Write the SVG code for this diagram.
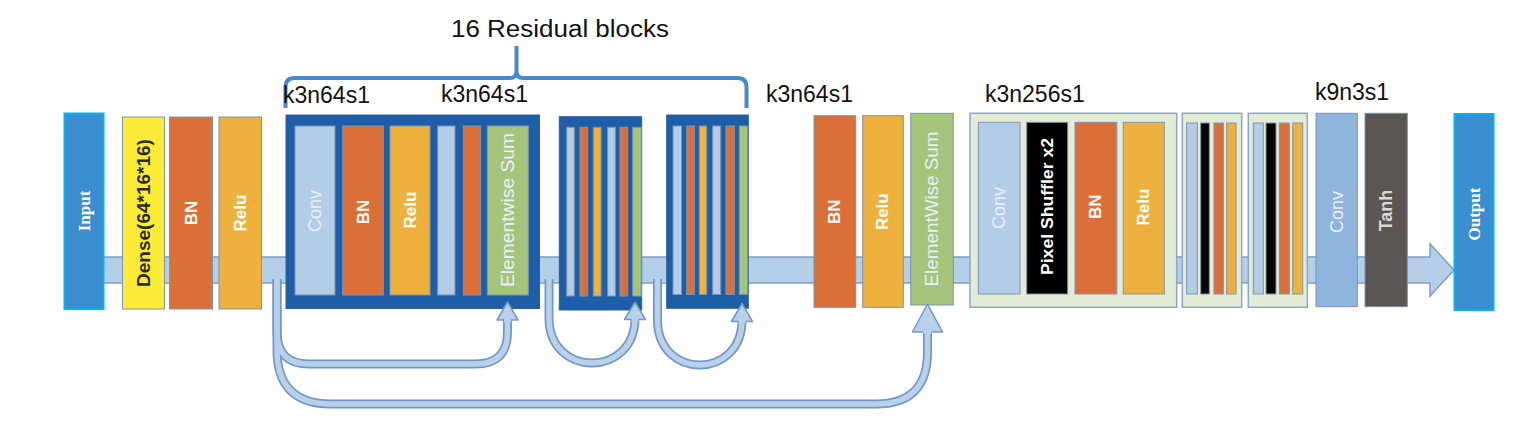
<svg xmlns="http://www.w3.org/2000/svg" width="1526" height="436" viewBox="0 0 1526 436">
<style>
.bg{fill:#ffffff}
.io{fill:#3a8dcf;stroke:#00b4f0;stroke-width:2}
.bar{stroke:#7d93ae;stroke-width:1}
.conv{fill:#b4cde6}
.conv2{fill:#8fb4de}
.bn{fill:#da7038}
.relu{fill:#eeb13e}
.sum{fill:#a5c47c}
.dense{fill:#fdec37}
.blk{fill:#000000}
.tanh{fill:#5b5653}
.res{fill:#1e5ea8;stroke:#2d5f98;stroke-width:1}
.up{fill:#e2ecd7;stroke:#8ea8c8;stroke-width:1.5}
.band{fill:#b6cfe8;stroke:#7f9fc4;stroke-width:1.5}
.t{font-family:"Liberation Sans",Arial,sans-serif;text-anchor:middle;dominant-baseline:central}
.w{fill:#ffffff}
.lt{fill:#e8f0f9}
.io-t{font-family:"Liberation Serif","Times New Roman",serif;font-weight:bold;font-size:17px;fill:#ffffff;text-anchor:middle;dominant-baseline:central}
.hd{font-family:"Liberation Sans",Arial,sans-serif;font-size:23px;fill:#111111}
.cdark{fill:none;stroke:#7398c6;stroke-width:9}
.clight{fill:none;stroke:#b8d0ea;stroke-width:5.5}
.head{fill:#b8d0ea;stroke:#7398c6;stroke-width:1.5;stroke-linejoin:round}
.brace{fill:none;stroke:#4a88cc;stroke-width:4;stroke-linejoin:round}
</style>
<defs>
<path id="p-outer" d="M277,279 V350 Q277,404 331,404 H876 Q927.5,404 927.5,352 V330"/>
<path id="p-res1" d="M277,279 V332 Q277,364 309,364 H475.5 Q507.5,364 507.5,332 V318"/>
<path id="p-res2" d="M549,279 V318 C549,378 635,378 635,318"/>
<path id="p-res3" d="M657.5,279 V320 C657.5,380 742,380 742,320"/>
</defs>
<rect class="bg" x="0" y="0" width="1526" height="436"/>

<g id="title">
<text class="hd" x="560" y="37" text-anchor="middle" textLength="218" lengthAdjust="spacingAndGlyphs">16 Residual blocks</text>
<path class="brace" d="M285.5,108 V87 Q285.5,78 294.5,78 H510 Q516.5,78 516.5,71 V46 M516.5,71 Q516.5,78 523,78 H737.5 Q746.5,78 746.5,87 V108"/>
</g>

<g id="labels">
<text class="hd" x="283" y="103">k3n64s1</text>
<text class="hd" x="441" y="102">k3n64s1</text>
<text class="hd" x="766" y="102">k3n64s1</text>
<text class="hd" x="985" y="102">k3n256s1</text>
<text class="hd" x="1315" y="100">k9n3s1</text>
</g>

<g id="trunk">
<path class="band" d="M103,257 H1430 V244 L1454,270 L1430,296 V283 H103 Z"/>
</g>

<g id="input">
<rect class="io" x="64.5" y="113.5" width="39" height="195.5"/>
<text class="io-t" x="84" y="211" transform="rotate(-90 84 211)">Input</text>
</g>

<g id="dense">
<rect class="bar dense" x="122.5" y="117" width="42" height="192"/>
<text class="t" x="143.5" y="213" transform="rotate(-90 143.5 213)" font-size="19" font-weight="bold" fill="#2b2b1a">Dense(64*16*16)</text>
</g>

<g id="bn1">
<rect class="bar bn" x="169.5" y="117" width="43" height="192"/>
<text class="t w" x="191" y="213" transform="rotate(-90 191 213)" font-size="17" font-weight="bold">BN</text>
</g>

<g id="relu1">
<rect class="bar relu" x="219" y="117" width="42.5" height="192"/>
<text class="t w" x="240.3" y="213" transform="rotate(-90 240.3 213)" font-size="17" font-weight="bold">Relu</text>
</g>

<g id="resblock1">
<rect class="res" x="286" y="115" width="253.5" height="193.5"/>
<rect class="bar conv" x="295" y="126" width="40" height="169"/>
<rect class="bar bn" x="342.7" y="126" width="40.6" height="169"/>
<rect class="bar relu" x="390" y="126" width="40" height="169"/>
<rect class="bar conv" x="437.7" y="126" width="17.3" height="169"/>
<rect class="bar bn" x="463.3" y="126" width="17.4" height="169"/>
<rect class="bar sum" x="487.3" y="126" width="41" height="169"/>
<text class="t lt" x="315" y="211" transform="rotate(-90 315 211)" font-size="18">Conv</text>
<text class="t w" x="363" y="212" transform="rotate(-90 363 212)" font-size="17" font-weight="bold">BN</text>
<text class="t w" x="410" y="210" transform="rotate(-90 410 210)" font-size="17" font-weight="bold">Relu</text>
<text class="t lt" x="507.8" y="210" transform="rotate(-90 507.8 210)" font-size="18" textLength="154" lengthAdjust="spacingAndGlyphs">Elementwise Sum</text>
</g>

<g id="resblock2">
<rect class="res" x="559.3" y="116.7" width="82.4" height="193.3"/>
<rect class="bar conv" x="566.7" y="127.3" width="7.6" height="168.7"/>
<rect class="bar bn" x="580" y="127.3" width="7.7" height="168.7"/>
<rect class="bar relu" x="593.3" y="127.3" width="7.7" height="168.7"/>
<rect class="bar conv" x="607.7" y="127.3" width="7.6" height="168.7"/>
<rect class="bar bn" x="620" y="127.3" width="7.7" height="168.7"/>
<rect class="bar sum" x="632.7" y="127.3" width="8.5" height="168.7"/>
</g>

<g id="resblock3">
<rect class="res" x="666.7" y="115" width="81.6" height="193.3"/>
<rect class="bar conv" x="673" y="126" width="8.5" height="168.5"/>
<rect class="bar bn" x="686.7" y="126" width="7.6" height="168.5"/>
<rect class="bar relu" x="699.3" y="126" width="7.4" height="168.5"/>
<rect class="bar conv" x="712.7" y="126" width="8" height="168.5"/>
<rect class="bar bn" x="726" y="126" width="8.3" height="168.5"/>
<rect class="bar sum" x="739.3" y="126" width="8.4" height="168.5"/>
</g>

<g id="bn2">
<rect class="bar bn" x="814" y="115.7" width="41.7" height="191.6"/>
<text class="t w" x="834.8" y="211.7" transform="rotate(-90 834.8 211.7)" font-size="17" font-weight="bold">BN</text>
</g>

<g id="relu2">
<rect class="bar relu" x="862.7" y="115.7" width="40.6" height="191.6"/>
<text class="t w" x="883" y="211.7" transform="rotate(-90 883 211.7)" font-size="17" font-weight="bold">Relu</text>
</g>

<g id="elementwise-sum">
<rect class="bar sum" x="910.7" y="113.3" width="42.6" height="191.7"/>
<text class="t lt" x="932" y="209" transform="rotate(-90 932 209)" font-size="18" textLength="155" lengthAdjust="spacingAndGlyphs">ElementWise Sum</text>
</g>

<g id="upsample1">
<rect class="up" x="970" y="113.3" width="206.7" height="194"/>
<rect class="bar conv" x="978.3" y="122.3" width="41.7" height="171.7"/>
<rect class="bar blk" x="1026.7" y="122.3" width="41" height="171.7"/>
<rect class="bar bn" x="1075" y="122.3" width="41.7" height="171.7"/>
<rect class="bar relu" x="1123.3" y="122.3" width="41" height="171.7"/>
<text class="t lt" x="999.2" y="208" transform="rotate(-90 999.2 208)" font-size="18">Conv</text>
<text class="t w" x="1047.2" y="206.5" transform="rotate(-90 1047.2 206.5)" font-size="17" font-weight="bold" textLength="137" lengthAdjust="spacingAndGlyphs">Pixel Shuffler x2</text>
<text class="t w" x="1095.8" y="206.7" transform="rotate(-90 1095.8 206.7)" font-size="17" font-weight="bold">BN</text>
<text class="t w" x="1143.8" y="207" transform="rotate(-90 1143.8 207)" font-size="17" font-weight="bold">Relu</text>
</g>

<g id="upsample2">
<rect class="up" x="1182.3" y="113.3" width="59.4" height="194"/>
<rect class="bar conv" x="1186.7" y="123" width="10.6" height="171"/>
<rect class="bar blk" x="1200.7" y="123" width="8.6" height="171"/>
<rect class="bar bn" x="1214" y="123" width="9.3" height="171"/>
<rect class="bar relu" x="1226.7" y="123" width="9.3" height="171"/>
</g>

<g id="upsample3">
<rect class="up" x="1248.3" y="113.3" width="59" height="194"/>
<rect class="bar conv" x="1253.3" y="123" width="10" height="171"/>
<rect class="bar blk" x="1266" y="123" width="10" height="171"/>
<rect class="bar bn" x="1279.3" y="123" width="10" height="171"/>
<rect class="bar relu" x="1292.7" y="123" width="10" height="171"/>
</g>

<g id="conv-final">
<rect class="bar conv2" x="1316" y="113.3" width="41.3" height="193.4"/>
<text class="t lt" x="1336.7" y="212" transform="rotate(-90 1336.7 212)" font-size="18">Conv</text>
</g>

<g id="tanh">
<rect class="bar tanh" x="1365" y="113.3" width="42.3" height="193.4"/>
<text class="t" x="1386.2" y="210.5" transform="rotate(-90 1386.2 210.5)" font-size="18" font-weight="bold" fill="#dcd8d4">Tanh</text>
</g>

<g id="output">
<rect class="io" x="1454.5" y="114" width="39" height="196"/>
<text class="io-t" x="1474" y="214" transform="rotate(-90 1474 214)">Output</text>
</g>

<g id="connectors">
<use href="#p-outer" class="cdark"/>
<use href="#p-res1" class="cdark"/>
<use href="#p-res2" class="cdark"/>
<use href="#p-res3" class="cdark"/>
<use href="#p-outer" class="clight"/>
<use href="#p-res1" class="clight"/>
<use href="#p-res2" class="clight"/>
<use href="#p-res3" class="clight"/>
<polygon class="head" points="912.5,332 927.5,304 942.5,332"/>
<polygon class="head" points="497,320 507.5,302 518,320"/>
<polygon class="head" points="624.5,319.5 635,302 645.5,319.5"/>
<polygon class="head" points="731.5,321.5 742,303.5 752.5,321.5"/>
<rect x="923.5" y="330" width="8" height="4" fill="#b8d0ea"/>
<rect x="504" y="318" width="7" height="4" fill="#b8d0ea"/>
<rect x="631.5" y="318" width="7" height="3.5" fill="#b8d0ea"/>
<rect x="738.5" y="320" width="7" height="3.5" fill="#b8d0ea"/>
</g>
</svg>
